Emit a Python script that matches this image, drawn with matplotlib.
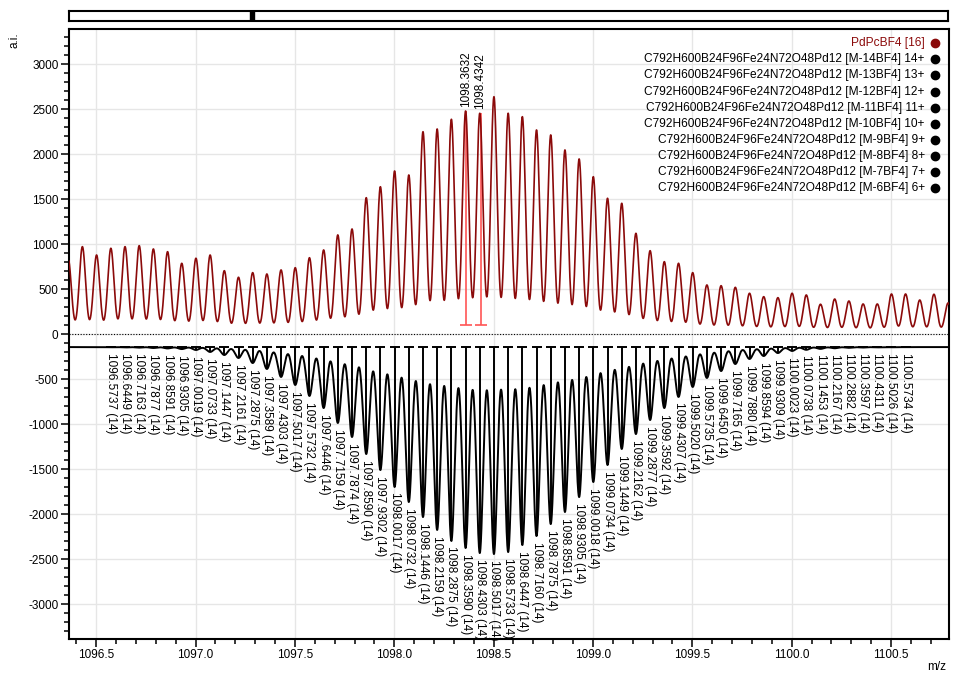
import numpy as np
import matplotlib.pyplot as plt
from matplotlib.ticker import MultipleLocator, FormatStrFormatter

plt.rcParams['font.family'] = ['Liberation Sans', 'DejaVu Sans']
plt.rcParams['axes.unicode_minus'] = False

# theoretical isotope pattern of [M-14BF4] 14+ (peak m/z and depth below its baseline)
theo_mz = [1096.5737, 1096.6449, 1096.7163, 1096.7877, 1096.8591, 1096.9305,
           1097.0019, 1097.0733, 1097.1447, 1097.2161, 1097.2875, 1097.3589, 1097.4303,
           1097.5017, 1097.5732, 1097.6446, 1097.7159, 1097.7874, 1097.8590, 1097.9302,
           1098.0017, 1098.0732, 1098.1446, 1098.2159, 1098.2875, 1098.3590, 1098.4303,
           1098.5017, 1098.5733, 1098.6447, 1098.7160, 1098.7875, 1098.8591, 1098.9305,
           1099.0018, 1099.0734, 1099.1449, 1099.2162, 1099.2877, 1099.3592, 1099.4307,
           1099.5020, 1099.5735, 1099.6450, 1099.7165, 1099.7880, 1099.8594, 1099.9309,
           1100.0023, 1100.0738, 1100.1453, 1100.2167, 1100.2882, 1100.3597, 1100.4311,
           1100.5026, 1100.5734]
theo_int = [2, 4, 6, 10, 15, 22, 32, 54, 88, 121, 177, 243, 332, 421, 543, 677, 843, 999,
            1188, 1366, 1554, 1721, 1888, 2032, 2154, 2232, 2288, 2299, 2277, 2199, 2099,
            1966, 1832, 1666, 1499, 1310, 1132, 966, 810, 677, 554, 443, 343, 266, 188, 132,
            99, 66, 43, 30, 20, 13, 8, 5, 3, 2, 1]
theo_charge = 14
theo_base = -140

# measured spectrum PdPcBF4 [16], peak tops
exp_mz = [1096.3590, 1096.4304, 1096.5018] + theo_mz + [1100.6448, 1100.7162, 1100.7876]
exp_int = [840, 976, 883,
           958, 976, 987, 950, 920, 791, 847, 883, 709, 636, 687, 672, 717, 742, 853, 939,
           1106, 1172, 1520, 1642, 1817, 1772, 2253, 2283, 2391, 2483, 2458, 2642, 2458,
           2420, 2272, 2217, 2050, 1950, 1753, 1513, 1458, 1124, 931, 809, 791, 687, 550,
           542, 524, 458, 420, 409, 458, 439, 336, 394, 372, 339, 339, 450, 450,
           383, 447, 350]
exp_floor = 25

marked_mz = [1098.3632, 1098.4342]
marked_int = [2483, 2458]
marked_low = 100

legend_labels = ["PdPcBF4 [16]",
                 "C792H600B24F96Fe24N72O48Pd12 [M-14BF4] 14+",
                 "C792H600B24F96Fe24N72O48Pd12 [M-13BF4] 13+",
                 "C792H600B24F96Fe24N72O48Pd12 [M-12BF4] 12+",
                 "C792H600B24F96Fe24N72O48Pd12 [M-11BF4] 11+",
                 "C792H600B24F96Fe24N72O48Pd12 [M-10BF4] 10+",
                 "C792H600B24F96Fe24N72O48Pd12 [M-9BF4] 9+",
                 "C792H600B24F96Fe24N72O48Pd12 [M-8BF4] 8+",
                 "C792H600B24F96Fe24N72O48Pd12 [M-7BF4] 7+",
                 "C792H600B24F96Fe24N72O48Pd12 [M-6BF4] 6+"]

red = '#8b0a0a'
xmin, xmax = 1096.363, 1100.792


def profile(x, mz, h, sigma):
    out = np.zeros_like(x)
    for m, a in zip(mz, h):
        out += a * np.exp(-(x - m) ** 2 / (2 * sigma ** 2))
    return out


fig = plt.figure(figsize=(9.56, 6.76), dpi=100)
ax = fig.add_axes([69 / 956, 1 - 638.5 / 676, 880 / 956, 609.2 / 676])

x = np.linspace(xmin, xmax, 8000)
y_exp = exp_floor + profile(x, exp_mz, np.array(exp_int) - exp_floor, 0.0158)
y_theo = theo_base - profile(x, theo_mz, theo_int, 0.0168)

ax.axhline(0, color='black', lw=0.8, ls=(0, (1, 1.5)), zorder=2)

# measured
ax.vlines(marked_mz, marked_low, marked_int, color='#ff5555', lw=1.2, zorder=3)
ax.plot(marked_mz, [marked_low] * len(marked_mz), '_', ms=8, mew=1.2, color='#ff5555', zorder=3)
ax.plot(x, y_exp, color=red, lw=1.2, zorder=4)
for m, h in zip(marked_mz, marked_int):
    ax.annotate(f"{m:.4f}", (m, h), xytext=(0, 3), textcoords='offset points',
                rotation=90, ha='center', va='bottom', fontsize=8.5)

# theoretical (mirrored)
tips = theo_base - np.array(theo_int)
ax.plot(x, y_theo, color='black', lw=1.4, zorder=4)
ax.vlines(theo_mz, theo_base, tips, color='black', lw=1.4, zorder=4)
ax.plot(theo_mz, [theo_base] * len(theo_mz), '_', ms=7, mew=1.4, color='black', zorder=4)
for m, t in zip(theo_mz, tips):
    ax.annotate(f"{m:.4f} ({theo_charge})", (m, t), xytext=(0, -4), textcoords='offset points',
                rotation=-90, ha='center', va='top', fontsize=8.5)

# legend
for i, lab in enumerate(legend_labels):
    col = red if i == 0 else 'black'
    yy = 0.977 - i * 0.0264
    ax.text(0.9725, yy, lab, transform=ax.transAxes, ha='right', va='center',
            color=col, fontsize=8.6)
    ax.plot(0.984, yy, 'o', transform=ax.transAxes, ms=6, color=col, clip_on=False)

ax.set_xlim(xmin, xmax)
ax.set_ylim(-3378, 3391)
ax.set_xticks(np.arange(1096.5, 1100.6, 0.5))
ax.xaxis.set_major_formatter(FormatStrFormatter('%.1f'))
ax.xaxis.set_minor_locator(MultipleLocator(0.1))
ax.set_yticks(np.arange(-3000, 3001, 500))
ax.yaxis.set_minor_locator(MultipleLocator(100))
ax.tick_params(which='major', direction='out', length=5.5, width=1.1, labelsize=8.5, pad=2)
ax.tick_params(which='minor', direction='out', length=3.3, width=1.1)
ax.grid(True, which='major', color='#e6e6e6', lw=1)
ax.set_axisbelow(True)
for s in ax.spines.values():
    s.set_linewidth(1.5)

fig.text(14 / 956, 1 - 40 / 676, 'a.i.', rotation=90, ha='center', va='center', fontsize=8.5)
fig.text(937 / 956, 1 - 667 / 676, 'm/z', ha='center', va='center', fontsize=8.5)

# navigation bar on top
bar = fig.add_axes([69 / 956, 1 - 21 / 676, 879 / 956, 10 / 676])
bar.set_xticks([])
bar.set_yticks([])
bar.set_xlim(0, 1)
bar.axvspan(0.206, 0.2105, color='black')
for s in bar.spines.values():
    s.set_linewidth(1.5)

fig.savefig('out.png', dpi=100)
